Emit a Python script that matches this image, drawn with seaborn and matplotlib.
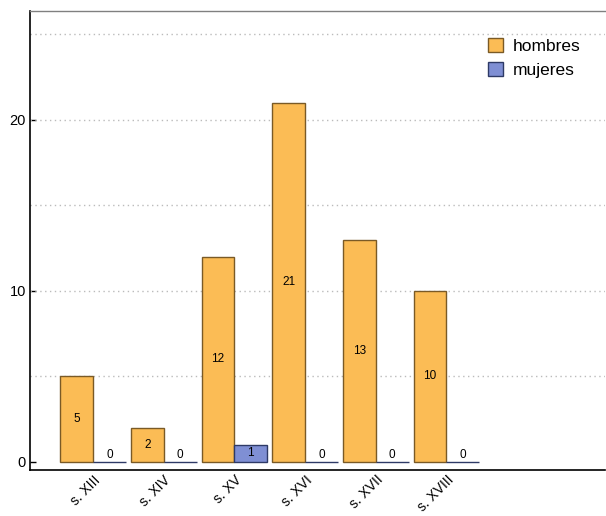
import matplotlib
matplotlib.use("Agg")
import matplotlib.pyplot as plt
import seaborn as sns
import pandas as pd
from matplotlib.patches import Patch

# Datos por siglo
siglos = ["s. XIII", "s. XIV", "s. XV", "s. XVI", "s. XVII", "s. XVIII"]
hombres = [5, 2, 12, 21, 13, 10]
mujeres = [0, 0, 1, 0, 0, 0]
series = ["hombres", "mujeres"]

colores = {"hombres": "#FBBC55", "mujeres": "#7F8FD4"}
bordes = {"hombres": "#7A5A26", "mujeres": "#2E3A66"}

df = pd.DataFrame({
    "siglo": siglos * 2,
    "sexo": ["hombres"] * len(siglos) + ["mujeres"] * len(siglos),
    "n": hombres + mujeres,
})

sns.set_style("white")
plt.rcParams["font.family"] = ["Liberation Sans", "DejaVu Sans"]
plt.rcParams["text.color"] = "black"

fig = plt.figure(figsize=(6.06, 5.16), dpi=100)
ax = fig.add_axes([0.0495, 0.0891, 0.9485, 0.8896])

sns.barplot(data=df, x="siglo", y="n", hue="sexo", order=siglos,
            hue_order=series, palette=colores, width=0.93, gap=0,
            saturation=1, legend=False, ax=ax)

# Bordes por serie
for cont, s in zip(ax.containers, series):
    for bar in cont:
        bar.set_edgecolor(bordes[s])
        bar.set_linewidth(1.0)

# Etiquetas de valor dentro de cada barra
for cont, vals in zip(ax.containers, [hombres, mujeres]):
    for bar, v in zip(cont, vals):
        xc = bar.get_x() + bar.get_width() / 2
        yc = v / 2 if v > 0 else 0.4
        ax.text(xc, yc, str(v), ha="center", va="center", fontsize=8.5,
                color="black")

ax.set_xlim(-0.892, 7.24)
ax.set_ylim(-0.47, 26.37)

ax.set_yticks([0, 10, 20])
ax.set_yticks([5, 10, 15, 20, 25], minor=True)
ax.yaxis.remove_overlapping_locs = False
ax.tick_params(axis="y", which="major", direction="in", length=4, width=1,
               color="black", labelcolor="black", labelsize=10.5, pad=3,
               left=True)
ax.tick_params(axis="y", which="minor", length=0)
ax.tick_params(axis="x", length=0, labelsize=10, labelcolor="black", pad=2)
plt.setp(ax.get_xticklabels(), rotation=45, ha="right",
         rotation_mode="anchor")

# Rejilla punteada solo en las líneas secundarias (sin línea en 0)
ax.grid(False, which="major")
ax.grid(True, axis="y", which="minor", linestyle=(0, (1, 2.5)),
        color="#BBBBBB", linewidth=1)
ax.set_axisbelow(True)

ax.set_xlabel("")
ax.set_ylabel("")

for side in ["left", "bottom"]:
    ax.spines[side].set_color("black")
    ax.spines[side].set_linewidth(1.2)
ax.spines["top"].set_color("#808080")
ax.spines["top"].set_linewidth(1.0)
ax.spines["right"].set_visible(False)

handles = [Patch(facecolor=colores[s], edgecolor=bordes[s], label=s)
           for s in series]
leg = ax.legend(handles=handles, loc="upper right", frameon=False,
                fontsize=12.5, handlelength=0.85, handleheight=0.85,
                handletextpad=0.55, labelspacing=0.45,
                bbox_to_anchor=(0.985, 0.975))
for t in leg.get_texts():
    t.set_color("black")

fig.savefig("out.png", dpi=100)
